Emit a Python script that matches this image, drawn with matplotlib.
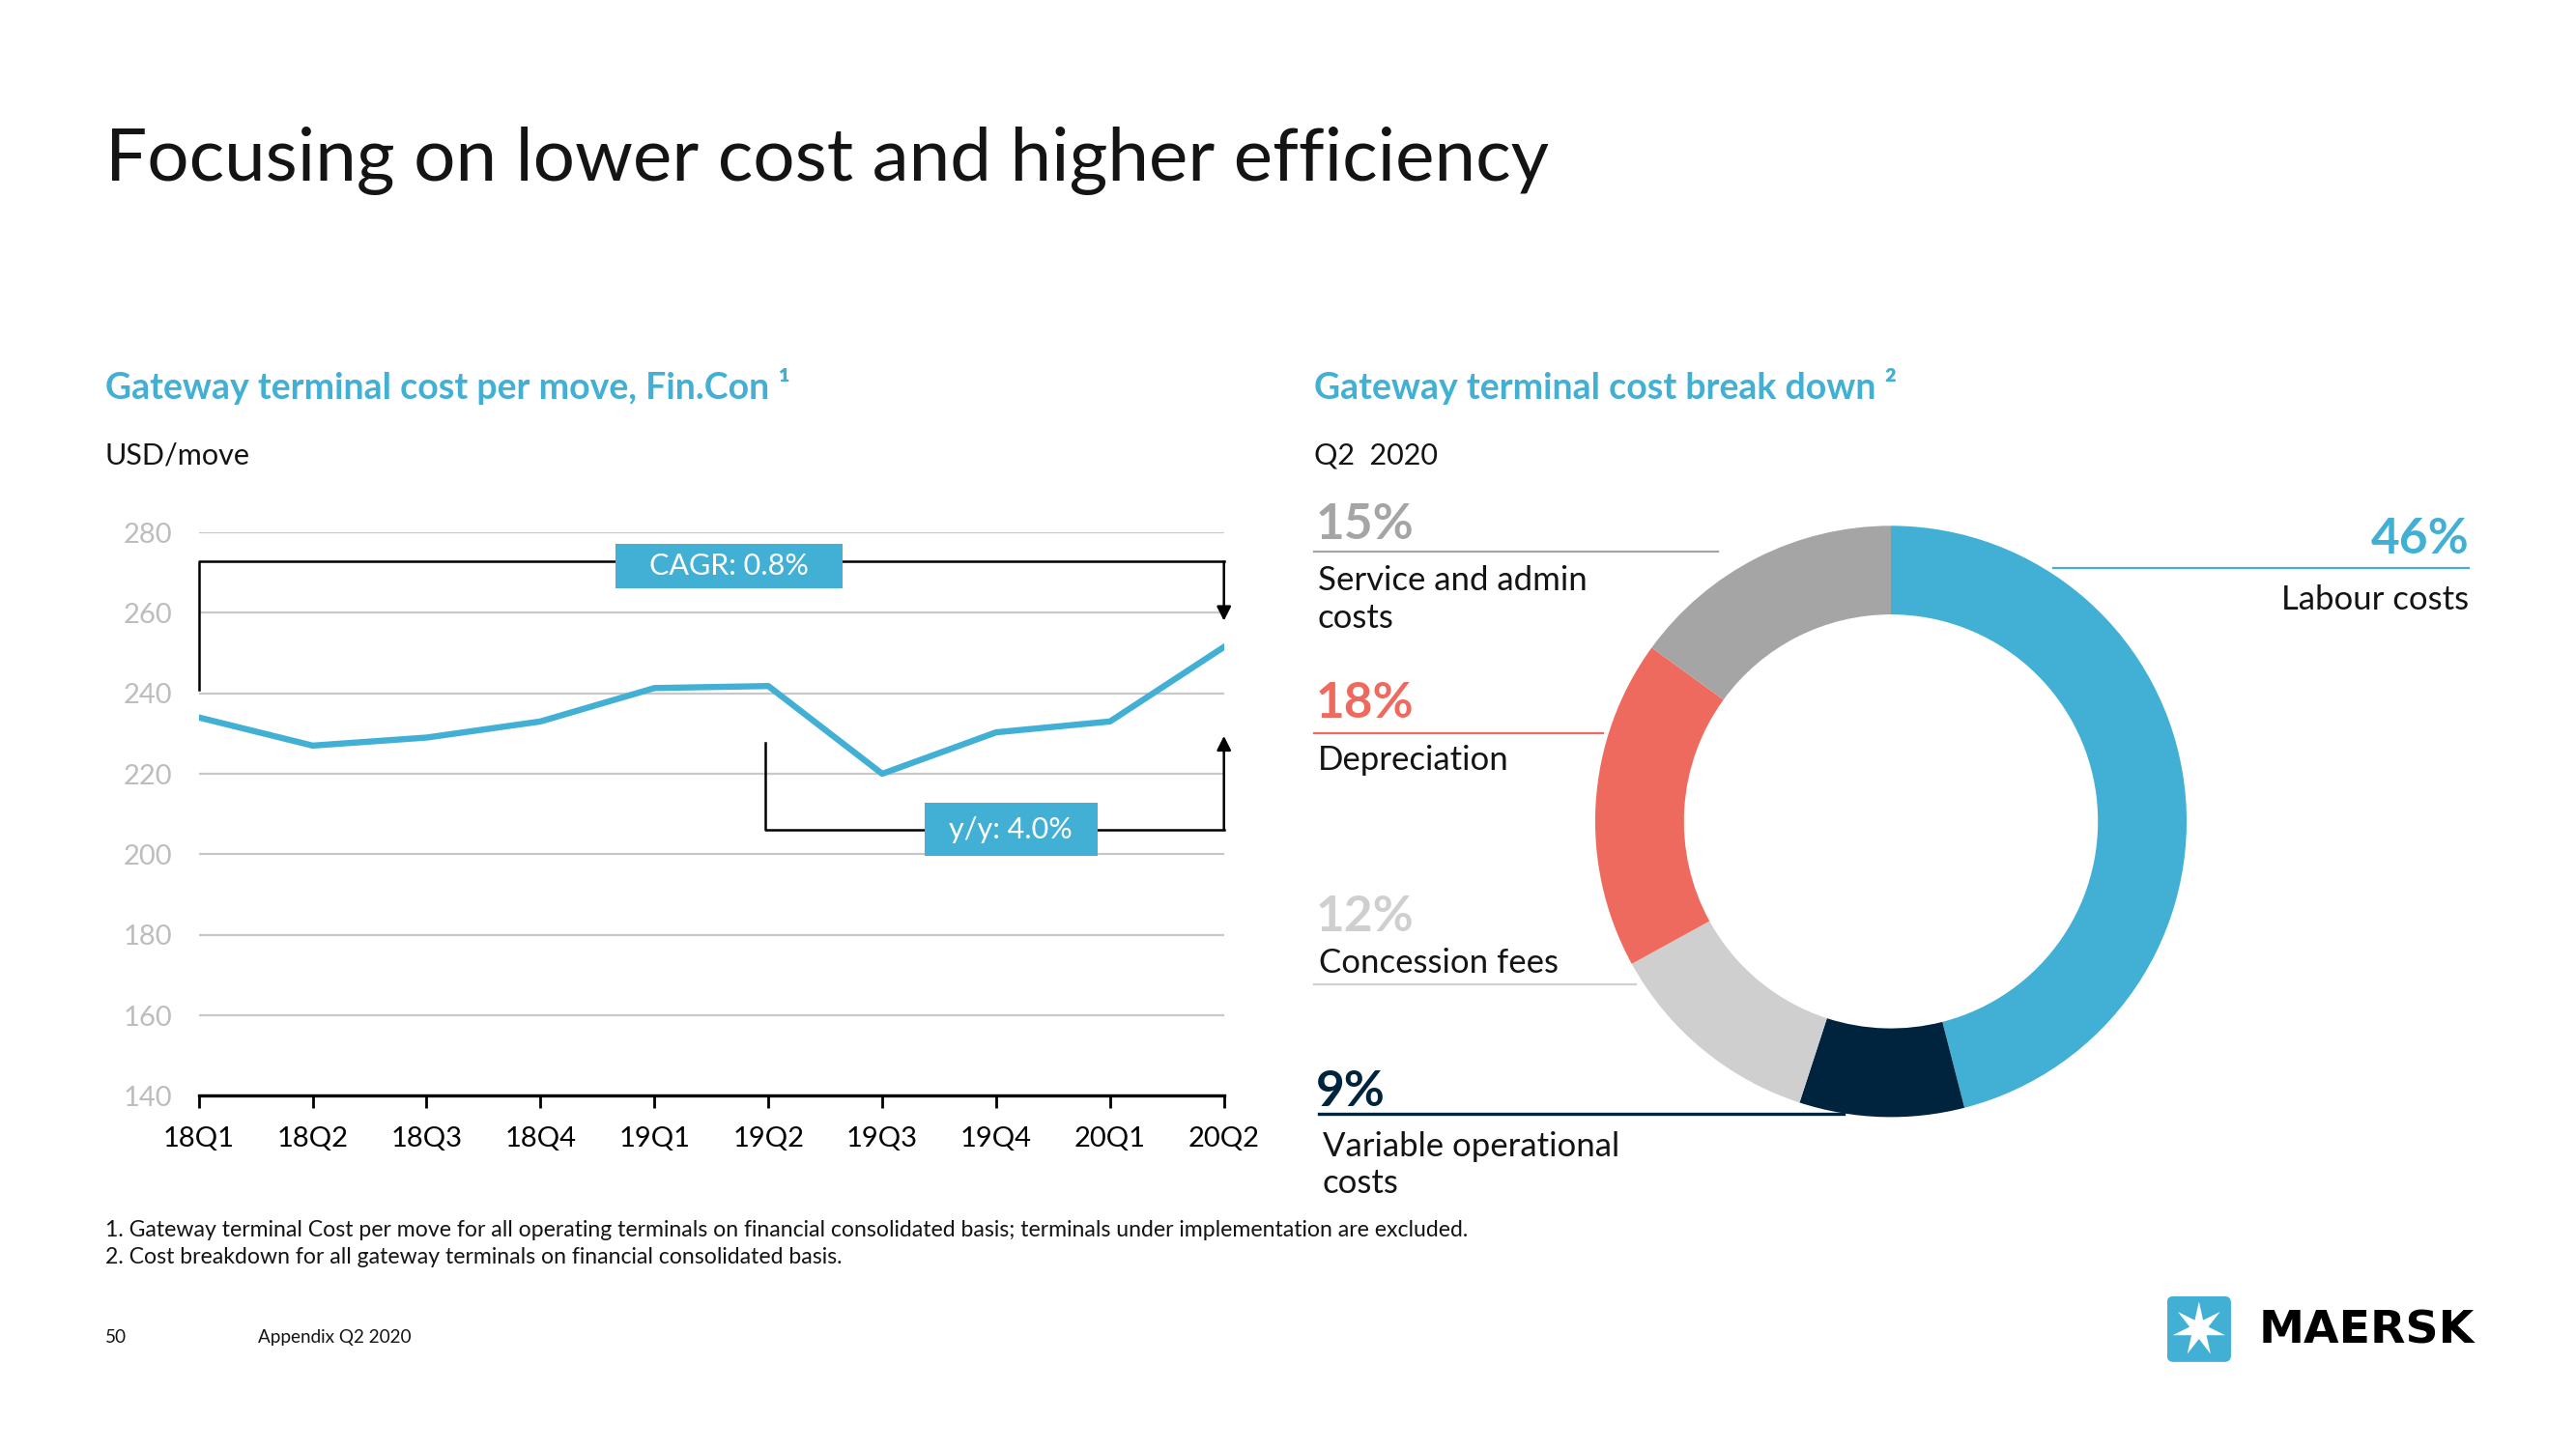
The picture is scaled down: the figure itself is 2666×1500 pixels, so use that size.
import matplotlib
matplotlib.use('Agg')
import matplotlib.pyplot as plt
from matplotlib.patches import Rectangle, FancyBboxPatch, Polygon
from matplotlib.lines import Line2D
import numpy as np

# ---------------- data ----------------
quarters = ['18Q1', '18Q2', '18Q3', '18Q4', '19Q1', '19Q2', '19Q3', '19Q4', '20Q1', '20Q2']
cost_per_move = [234, 227, 229, 233, 241.3, 241.8, 220, 230.3, 233, 251.5]
y_ticks = [140, 160, 180, 200, 220, 240, 260, 280]

cagr_label = 'CAGR: 0.8%'
yoy_label = 'y/y: 4.0%'

breakdown_labels = ['Labour costs', 'Variable operational\ncosts', 'Concession fees',
                    'Depreciation', 'Service and admin\ncosts']
breakdown_share = [46, 9, 12, 18, 15]
breakdown_pct_text = ['46%', '9%', '12%', '18%', '15%']

BLUE = '#42B0D5'
NAVY = '#00243D'
LGRAY = '#CFCFCF'
RED = '#EE6A5E'
GRAY = '#A5A5A5'
breakdown_colors = [BLUE, NAVY, LGRAY, RED, GRAY]

plt.rcParams['font.family'] = ['Lato', 'DejaVu Sans']

W, H = 1568, 882
def fx(x):
    return x / W
def fy(y):
    return 1 - y / H

fig = plt.figure(figsize=(13.33, 7.5), dpi=200)
fig.patch.set_facecolor('white')

# ---------------- titles ----------------
fig.text(fx(64), fy(110), 'Focusing on lower cost and higher efficiency', fontsize=27.5,
         fontweight='normal', color='#141414', va='baseline', ha='left')
fig.text(fx(64), fy(243), 'Gateway terminal cost per move, Fin.Con \u00b9', fontsize=13.5,
         fontweight='bold', color=BLUE, va='baseline', ha='left')
fig.text(fx(64), fy(277), 'USD/move', fontsize=11, color='#141414', va='center', ha='left')
fig.text(fx(800), fy(243), 'Gateway terminal cost break down \u00b2', fontsize=13.5,
         fontweight='bold', color=BLUE, va='baseline', ha='left')
fig.text(fx(800), fy(277), 'Q2  2020', fontsize=11, color='#141414', va='center', ha='left')

# ---------------- line chart ----------------
ax = fig.add_axes([fx(121), fy(667), fx(745) - fx(121), fy(324) - fy(667)])
x = np.arange(len(quarters))
ax.plot(x, cost_per_move, color=BLUE, lw=2.3, zorder=3, solid_joinstyle='round')
ax.set_xlim(0, len(quarters) - 1)
ax.set_ylim(y_ticks[0], y_ticks[-1])
ax.set_yticks(y_ticks)
ax.set_xticks(x)
ax.set_xticklabels(quarters)
ax.yaxis.grid(True, color='#C8C8C8', lw=0.8)
ax.set_axisbelow(True)
for s in ['left', 'right', 'top']:
    ax.spines[s].set_visible(False)
ax.spines['bottom'].set_color('black')
ax.spines['bottom'].set_linewidth(1.2)
ax.spines['bottom'].set_zorder(4)
ax.tick_params(axis='y', length=0, pad=10, labelcolor='#BDBDBD', labelsize=10.5)
ax.tick_params(axis='x', length=4.5, width=1, direction='out', pad=7, labelsize=10.5,
               colors='black')

# CAGR bracket
ax.plot([0, 0, 9], [240.8, 272.7, 272.7], color='black', lw=0.9, clip_on=False, zorder=2)
ax.annotate('', xy=(9, 258), xytext=(9, 272.7),
            arrowprops=dict(arrowstyle='-|>', color='black', lw=0.9, mutation_scale=11,
                            shrinkA=0, shrinkB=0), zorder=2)
ax.add_patch(Rectangle((3.66, 266.1), 1.99, 11.0, facecolor=BLUE, edgecolor='none', zorder=5))
ax.text(4.655, 271.6, cagr_label, color='white', fontsize=11, ha='center', va='center', zorder=6)

# y/y bracket
ax.plot([4.97, 4.97, 9], [227.8, 206.1, 206.1], color='black', lw=0.9, clip_on=False, zorder=2)
ax.annotate('', xy=(9, 229.4), xytext=(9, 206.1),
            arrowprops=dict(arrowstyle='-|>', color='black', lw=0.9, mutation_scale=11,
                            shrinkA=0, shrinkB=0), zorder=2)
ax.add_patch(Rectangle((6.37, 199.6), 1.52, 13.1, facecolor=BLUE, edgecolor='none', zorder=5))
ax.text(7.13, 206.2, yoy_label, color='white', fontsize=11, ha='center', va='center', zorder=6)

# ---------------- donut ----------------
cx, cy, r = 1151, 500, 180
dax = fig.add_axes([fx(cx - r), fy(cy + r), 2 * r / W, 2 * r / H])
dax.pie(breakdown_share, colors=breakdown_colors, startangle=90, counterclock=False,
        radius=1, wedgeprops=dict(width=0.3, edgecolor='none'))
dax.set_xlim(-1, 1)
dax.set_ylim(-1, 1)
dax.axis('off')

def hline(x0, x1, y, color, lw=0.8):
    fig.add_artist(Line2D([fx(x0), fx(x1)], [fy(y), fy(y)], color=color, lw=lw))

PCT_FS = 18.5
LBL_FS = 12.5
# Service and admin 15%
fig.text(fx(801), fy(328), breakdown_pct_text[4], fontsize=PCT_FS, fontweight='bold', color=GRAY,
         va='baseline', ha='left')
hline(800, 1046, 336, GRAY)
fig.text(fx(802), fy(365), breakdown_labels[4], fontsize=LBL_FS, color='#141414', va='center',
         ha='left', linespacing=1.25)
# Depreciation 18%
fig.text(fx(801), fy(437), breakdown_pct_text[3], fontsize=PCT_FS, fontweight='bold', color=RED,
         va='baseline', ha='left')
hline(800, 976, 446, RED)
fig.text(fx(802), fy(463), breakdown_labels[3], fontsize=LBL_FS, color='#141414', va='center',
         ha='left')
# Concession fees 12%
fig.text(fx(801), fy(567), breakdown_pct_text[2], fontsize=PCT_FS, fontweight='bold', color=LGRAY,
         va='baseline', ha='left')
fig.text(fx(803), fy(586), breakdown_labels[2], fontsize=LBL_FS, color='#141414', va='center',
         ha='left')
hline(800, 996, 599, LGRAY)
# Variable operational 9%
fig.text(fx(801), fy(673), breakdown_pct_text[1], fontsize=PCT_FS, fontweight='bold', color=NAVY,
         va='baseline', ha='left')
hline(803, 1122, 678, NAVY, lw=1.2)
fig.text(fx(805), fy(709), breakdown_labels[1], fontsize=LBL_FS, color='#141414', va='center',
         ha='left', linespacing=1.25)
# Labour 46%
fig.text(fx(1503), fy(337), breakdown_pct_text[0], fontsize=PCT_FS, fontweight='bold', color=BLUE,
         va='baseline', ha='right')
hline(1250, 1503, 346, BLUE)
fig.text(fx(1503), fy(365), breakdown_labels[0], fontsize=LBL_FS, color='#141414', va='center',
         ha='right')

# ---------------- footnotes ----------------
fig.text(fx(64), fy(749), '1. Gateway terminal Cost per move for all operating terminals on financial '
         'consolidated basis; terminals under implementation are excluded.', fontsize=8.3,
         color='#141414', va='center', ha='left')
fig.text(fx(64), fy(765), '2. Cost breakdown for all gateway terminals on financial consolidated basis.',
         fontsize=8.3, color='#141414', va='center', ha='left')
fig.text(fx(64), fy(814), '50', fontsize=6.8, color='#141414', va='center', ha='left')
fig.text(fx(157), fy(814), 'Appendix Q2 2020', fontsize=6.8, color='#141414', va='center', ha='left')

# ---------------- logo ----------------
lax = fig.add_axes([fx(1319), fy(829), 39 / W, 40 / H])
lax.set_xlim(0, 1)
lax.set_ylim(0, 1)
lax.axis('off')
lax.add_patch(FancyBboxPatch((0, 0), 1, 1, boxstyle='round,pad=0,rounding_size=0.1',
                             facecolor=BLUE, edgecolor='none'))
n = 7
ang = np.pi / 2 + np.arange(2 * n) * np.pi / n
rad = np.where(np.arange(2 * n) % 2 == 0, 0.42, 0.15)
lax.add_patch(Polygon(np.column_stack([0.5 + rad * np.cos(ang), 0.5 + rad * np.sin(ang)]),
                      facecolor='white', edgecolor='none'))
fig.text(fx(1375), fy(810), 'MAERSK', fontsize=17, fontweight='bold', family='DejaVu Sans',
         color='black', va='center', ha='left')

fig.savefig('out.png', dpi=200, facecolor='white')
